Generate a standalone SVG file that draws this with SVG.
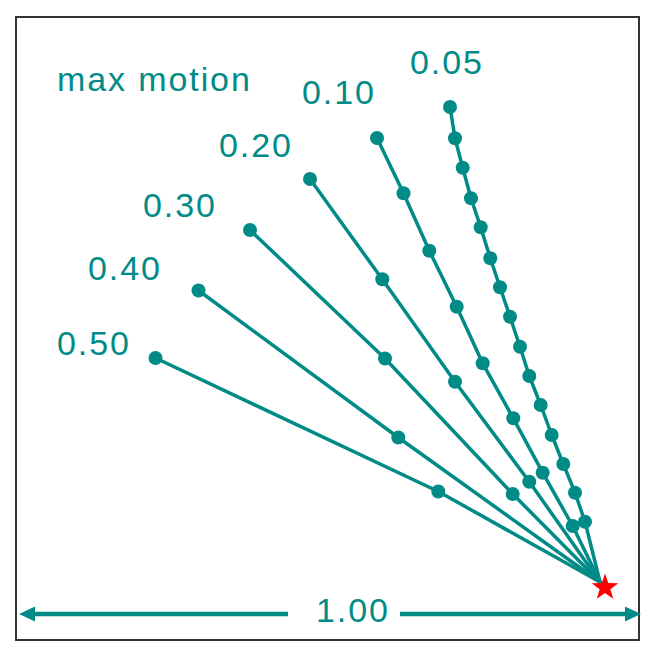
<svg xmlns="http://www.w3.org/2000/svg" width="654" height="652" viewBox="0 0 654 652">
<style>
.t{font-family:"Liberation Sans",Arial,sans-serif;font-size:34px;fill:#008B87;letter-spacing:1.9px}
.ln{fill:none;stroke:#008B87;stroke-width:3.5;stroke-linejoin:round;stroke-linecap:round}
.d{fill:#008B87}
</style>
<rect width="654" height="652" fill="#fff"/>
<rect id="frame" x="16" y="17" width="623" height="623" fill="none" stroke="#333" stroke-width="2"/>
<g id="labels">
<text class="t" x="57" y="91">max motion</text>
<text class="t" x="410" y="74">0.05</text>
<text class="t" x="302" y="104">0.10</text>
<text class="t" x="219" y="157">0.20</text>
<text class="t" x="143" y="217">0.30</text>
<text class="t" x="88" y="280">0.40</text>
<text class="t" x="57" y="355">0.50</text>
<text class="t" x="316" y="622">1.00</text>
</g>
<g id="connectors">
<polyline class="ln" points="450,107 455,138.3 462.7,167.7 471,198.3 480.7,227.3 490.3,258.3 500,287.3 510,316.7 520,346.7 529.3,376 540.7,405 551.7,435 563.3,464 575,492.7 585,521.7 600,582"/>
<polyline class="ln" points="377,138 403.5,193.3 429.3,250.7 456.7,306.7 482.7,363.3 513.3,418.3 542.7,472.7 572.7,526 600,582"/>
<polyline class="ln" points="310,179 382.3,279.3 455,381.7 529.3,481.7 600,582"/>
<polyline class="ln" points="250,230 385,358.5 512.7,494 600,582"/>
<polyline class="ln" points="198.5,290.5 398.3,437.5 600,582"/>
<polyline class="ln" points="155.5,358 438.3,491.5 600,582"/>
<line x1="33" y1="614" x2="288" y2="614" stroke="#008B87" stroke-width="4.3"/>
<line x1="400" y1="614" x2="627" y2="614" stroke="#008B87" stroke-width="4.3"/>
<polygon class="d" points="19,614 35,606.5 35,621.5"/>
<polygon class="d" points="641,614 625,606.5 625,621.5"/>
</g>
<g id="dots05" class="d">
<circle cx="450" cy="107" r="7"/><circle cx="455" cy="138.3" r="7"/><circle cx="462.7" cy="167.7" r="7"/><circle cx="471" cy="198.3" r="7"/><circle cx="480.7" cy="227.3" r="7"/><circle cx="490.3" cy="258.3" r="7"/><circle cx="500" cy="287.3" r="7"/><circle cx="510" cy="316.7" r="7"/><circle cx="520" cy="346.7" r="7"/><circle cx="529.3" cy="376" r="7"/><circle cx="540.7" cy="405" r="7"/><circle cx="551.7" cy="435" r="7"/><circle cx="563.3" cy="464" r="7"/><circle cx="575" cy="492.7" r="7"/><circle cx="585" cy="521.7" r="7"/>
</g>
<g id="dots10" class="d">
<circle cx="377" cy="138" r="7"/><circle cx="403.5" cy="193.3" r="7"/><circle cx="429.3" cy="250.7" r="7"/><circle cx="456.7" cy="306.7" r="7"/><circle cx="482.7" cy="363.3" r="7"/><circle cx="513.3" cy="418.3" r="7"/><circle cx="542.7" cy="472.7" r="7"/><circle cx="572.7" cy="526" r="7"/>
</g>
<g id="dots20" class="d">
<circle cx="310" cy="179" r="7"/><circle cx="382.3" cy="279.3" r="7"/><circle cx="455" cy="381.7" r="7"/><circle cx="529.3" cy="481.7" r="7"/>
</g>
<g id="dots30" class="d">
<circle cx="250" cy="230" r="7"/><circle cx="385" cy="358.5" r="7"/><circle cx="512.7" cy="494" r="7"/>
</g>
<g id="dots40" class="d">
<circle cx="198.5" cy="290.5" r="7"/><circle cx="398.3" cy="437.5" r="7"/>
</g>
<g id="dots50" class="d">
<circle cx="155.5" cy="358" r="7"/><circle cx="438.3" cy="491.5" r="7"/>
</g>
<g id="star">
<polygon fill="#FF0000" points="605,573.5 608.29,582.97 618.32,583.17 610.33,589.23 613.23,598.83 605,593.1 596.77,598.83 599.67,589.23 591.68,583.17 601.71,582.97"/>
</g>
</svg>
